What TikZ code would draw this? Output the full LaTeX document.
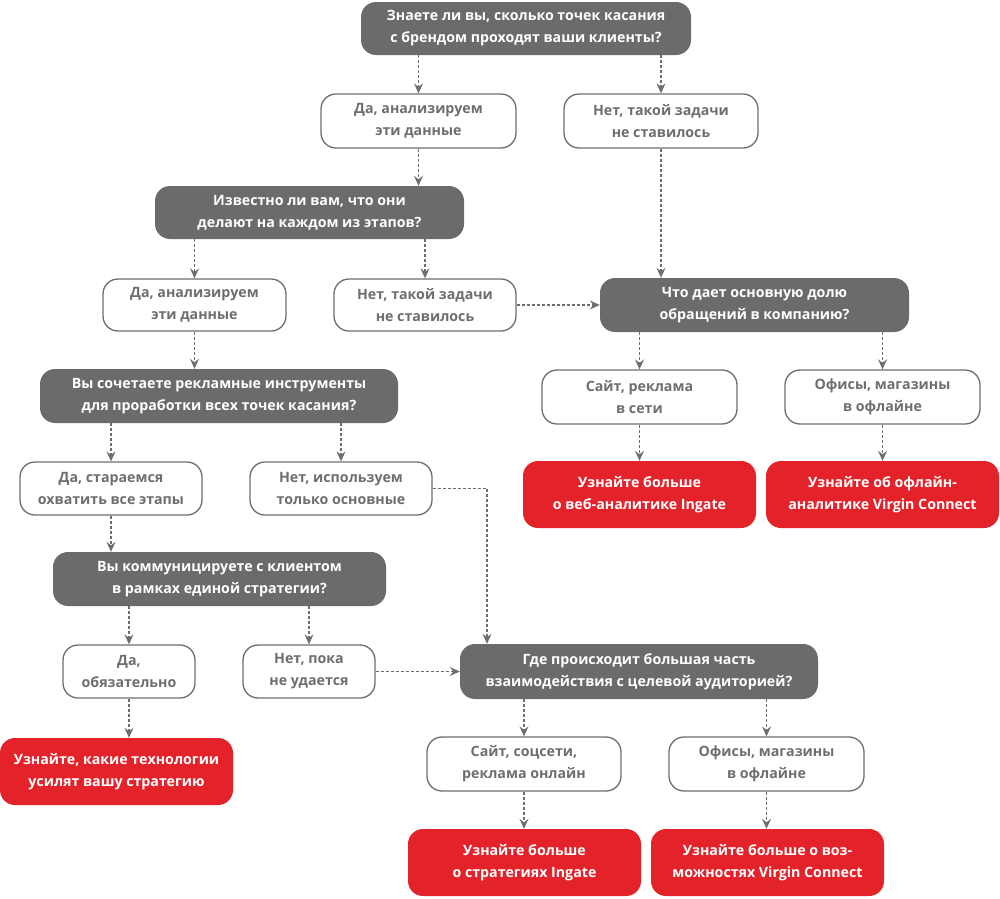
\documentclass[tikz,border=0pt]{standalone}
\usepackage{fontspec}
\setmainfont{Open Sans}
\usetikzlibrary{arrows.meta,positioning}
\definecolor{dk}{HTML}{6B6B6B}
\definecolor{gr}{HTML}{6E6E6E}
\definecolor{rd}{HTML}{E3222A}
\begin{document}
\begin{tikzpicture}[x=1pt,y=-1pt,
  base/.style={rounded corners=15pt, align=center, inner sep=0pt, font=\fontsize{14.2}{22}\selectfont\bfseries},
  qbox/.style={base, fill=dk, text=white},
  abox/.style={base, draw=gr, line width=1.3pt, fill=white, text=gr},
  rbox/.style={base, fill=rd, text=white},
  arr/.style={draw=gr, line width=1.2pt, dash pattern=on 3pt off 2pt, -{Stealth[length=10pt,width=9pt,inset=3.5pt]}}
]
\useasboundingbox (0,0) rectangle (1000,898);
% nodes (minimum sizes from reference)
\node[qbox, minimum width=330, minimum height=53] (q1) at (526,28.5) {Знаете ли вы, сколько точек касания\\с брендом проходят ваши клиенты?};
\node[abox, minimum width=195, minimum height=54] (a1) at (418.5,121) {Да, анализируем\\эти данные};
\node[abox, minimum width=194, minimum height=54] (b1) at (661,121) {Нет, такой задачи\\не ставилось};
\node[qbox, minimum width=309, minimum height=53] (q2) at (309.5,212.5) {Известно ли вам, что они\\делают на каждом из этапов?};
\node[abox, minimum width=183, minimum height=52] (a2) at (194.5,305) {Да, анализируем\\эти данные};
\node[abox, minimum width=182, minimum height=52] (b2) at (425,305) {Нет, такой задачи\\не ставилось};
\node[qbox, minimum width=309, minimum height=54] (q3) at (754.5,305) {Что дает основную долю\\обращений в компанию?};
\node[abox, minimum width=195, minimum height=54] (s1) at (639.5,397) {Сайт, реклама\\в сети};
\node[abox, minimum width=195, minimum height=54] (o1) at (882.5,397) {Офисы, магазины\\в офлайне};
\node[rbox, minimum width=233, minimum height=67] (r1) at (639.5,494.5) {Узнайте больше\\о веб-аналитике Ingate};
\node[rbox, minimum width=233, minimum height=67] (r2) at (882.5,494.5) {Узнайте об офлайн-\\аналитике Virgin Connect};
\node[qbox, minimum width=358, minimum height=54] (q4) at (219,396) {Вы сочетаете рекламные инструменты\\для проработки всех точек касания?};
\node[abox, minimum width=182, minimum height=53] (a4) at (111,488.5) {Да, стараемся\\охватить все этапы};
\node[abox, minimum width=182, minimum height=53] (b4) at (341,488.5) {Нет, используем\\только основные};
\node[qbox, minimum width=333, minimum height=54] (q5) at (219.5,579) {Вы коммуницируете с клиентом\\в рамках единой стратегии?};
\node[abox, minimum width=132, minimum height=53] (a5) at (129,671.5) {Да,\\обязательно};
\node[abox, minimum width=132, minimum height=53] (b5) at (309,671.5) {Нет, пока\\не удается};
\node[rbox, minimum width=233, minimum height=67] (r3) at (116.5,771.5) {Узнайте, какие технологии\\усилят вашу стратегию};
\node[qbox, minimum width=358, minimum height=55] (q6) at (639,671.5) {Где происходит большая часть\\взаимодействия с целевой аудиторией?};
\node[abox, minimum width=194, minimum height=54] (s6) at (524,764) {Сайт, соцсети,\\реклама онлайн};
\node[abox, minimum width=195, minimum height=54] (o6) at (766.5,764) {Офисы, магазины\\в офлайне};
\node[rbox, minimum width=233, minimum height=67] (r4) at (524.5,862.5) {Узнайте больше\\о стратегиях Ingate};
\node[rbox, minimum width=233, minimum height=67] (r5) at (767.5,862.5) {Узнайте больше о воз-\\можностях Virgin Connect};
\coordinate (q6in) at ([xshift=-152pt]q6.north);
% connectors
\draw[arr] (q1.south -| a1.north) -- (a1.north);
\draw[arr] (q1.south -| b1.north) -- (b1.north);
\draw[arr] (a1.south) -- (a1.south |- q2.north);
\draw[arr] (q2.south -| a2.north) -- (a2.north);
\draw[arr] (q2.south -| b2.north) -- (b2.north);
\draw[arr] (b1.south) -- (b1.south |- q3.north);
\draw[arr] (b2.east) -- (b2.east -| q3.west);
\draw[arr] (q3.south -| s1.north) -- (s1.north);
\draw[arr] (q3.south -| o1.north) -- (o1.north);
\draw[arr] (s1.south) -- (r1.north);
\draw[arr] (o1.south) -- (r2.north);
\draw[arr] (a2.south) -- (a2.south |- q4.north);
\draw[arr] (q4.south -| a4.north) -- (a4.north);
\draw[arr] (q4.south -| b4.north) -- (b4.north);
\draw[arr] (a4.south) -- (a4.south |- q5.north);
\draw[arr] (b4.east) -| (q6in);
\draw[arr] (q5.south -| a5.north) -- (a5.north);
\draw[arr] (q5.south -| b5.north) -- (b5.north);
\draw[arr] (a5.south) -- (a5.south |- r3.north);
\draw[arr] (b5.east) -- (b5.east -| q6.west);
\draw[arr] (q6.south -| s6.north) -- (s6.north);
\draw[arr] (q6.south -| o6.north) -- (o6.north);
\draw[arr] (s6.south) -- (s6.south |- r4.north);
\draw[arr] (o6.south) -- (o6.south |- r5.north);
\end{tikzpicture}
\end{document}
